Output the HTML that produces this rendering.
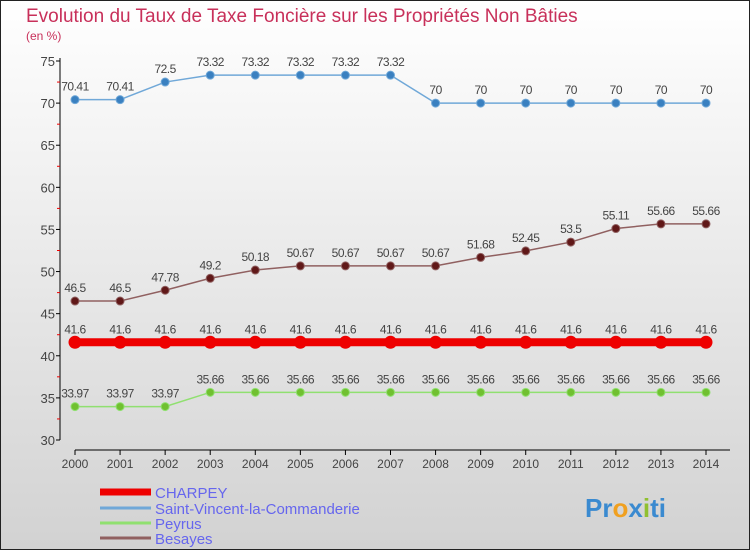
<!DOCTYPE html>
<html><head><meta charset="utf-8"><style>
html,body{margin:0;padding:0}
body{width:750px;height:550px;overflow:hidden;font-family:"Liberation Sans",sans-serif}
</style></head><body>
<svg id="chart" width="750" height="550" xmlns="http://www.w3.org/2000/svg">
<defs><linearGradient id="bg" x1="0" y1="0" x2="0" y2="1"><stop offset="0" stop-color="#ffffff"/><stop offset="1" stop-color="#d2d2d2"/></linearGradient></defs>
<rect x="0.5" y="0.5" width="749" height="549" fill="url(#bg)" stroke="#222"/>
<text x="26" y="22" font-size="19" fill="#c8305a">Evolution du Taux de Taxe Foncière sur les Propriétés Non Bâties</text>
<text x="26" y="40" font-size="12" fill="#c8305a">(en %)</text>
<g id="axes"></g><g id="series"></g>
<g>
<line x1="100" y1="492" x2="151" y2="492" stroke="#ee0000" stroke-width="7"/>
<text x="155" y="498" font-size="15" fill="#6666ee">CHARPEY</text>
<line x1="100" y1="508" x2="151" y2="508" stroke="#70a8d8" stroke-width="3"/>
<text x="155" y="514" font-size="15" fill="#6666ee">Saint-Vincent-la-Commanderie</text>
<line x1="100" y1="523" x2="151" y2="523" stroke="#90e070" stroke-width="3"/>
<text x="155" y="529" font-size="15" fill="#6666ee">Peyrus</text>
<line x1="100" y1="538" x2="151" y2="538" stroke="#906060" stroke-width="3"/>
<text x="155" y="544" font-size="15" fill="#6666ee">Besayes</text>
</g>
<g font-size="26" font-weight="bold">
<text x="585" y="517"><tspan fill="#3a8ad0">Pr</tspan><tspan fill="#f0a020">o</tspan><tspan fill="#3a8ad0">x</tspan><tspan fill="#90c030">i</tspan><tspan fill="#3a8ad0">ti</tspan></text>
</g>
</svg>
<script>
const years=[2000,2001,2002,2003,2004,2005,2006,2007,2008,2009,2010,2011,2012,2013,2014];
const yTicks=[30,35,40,45,50,55,60,65,70,75];
const charpey=[41.6,41.6,41.6,41.6,41.6,41.6,41.6,41.6,41.6,41.6,41.6,41.6,41.6,41.6,41.6];
const saintVincent=[70.41,70.41,72.5,73.32,73.32,73.32,73.32,73.32,70,70,70,70,70,70,70];
const peyrus=[33.97,33.97,33.97,35.66,35.66,35.66,35.66,35.66,35.66,35.66,35.66,35.66,35.66,35.66,35.66];
const besayes=[46.5,46.5,47.78,49.2,50.18,50.67,50.67,50.67,50.67,51.68,52.45,53.5,55.11,55.66,55.66];
const NS="http://www.w3.org/2000/svg";
const x=i=>75+i*(706-75)/(years.length-1);
const y=v=>61+(75-v)*(440-61)/45;
function el(t,a,p){const e=document.createElementNS(NS,t);for(const k in a)e.setAttribute(k,a[k]);p.appendChild(e);return e;}
const ax=document.getElementById('axes');
const yl=el('line',{x1:60,y1:58,x2:60,y2:440,stroke:'#000'},ax);


const xl=el('line',{x1:75,y1:450,x2:730,y2:450,stroke:'#000'},ax);


yTicks.forEach((v,i)=>{
  el('line',{x1:56,y1:y(v),x2:60,y2:y(v),stroke:'#000'},ax);
  if(i<yTicks.length-1) el('line',{x1:57,y1:y(v+2.5),x2:60,y2:y(v+2.5),stroke:'#e00'},ax);
  const t=el('text',{x:55,y:y(v)+5,'font-size':13,fill:'#444','text-anchor':'end'},ax);
  t.textContent=v;
  
  
});
years.forEach((yr,i)=>{
  el('line',{x1:x(i),y1:450,x2:x(i),y2:455,stroke:'#000'},ax);
  const t=el('text',{x:x(i),y:468,'font-size':12,fill:'#444','text-anchor':'middle'},ax);
  t.textContent=yr;
  
  
});
const sg=document.getElementById('series');
function series(data,name,color,dot,lw,r){
  const g=el('g',{},sg);
  
  
  el('polyline',{points:data.map((v,i)=>x(i)+','+y(v)).join(' '),fill:'none',stroke:color,'stroke-width':lw},g);
  data.forEach((v,i)=>{
    const c=el('circle',{cx:x(i),cy:y(v),r:r,fill:dot,stroke:color,'stroke-width':1},g);
    
    
    const t=el('text',{x:x(i),y:y(v)-9,'font-size':12,fill:'#444','text-anchor':'middle','letter-spacing':'-0.5'},g);
    t.textContent=v;
    
    
  });
}
series(saintVincent,'saint-vincent-series','#70a8d8','#3a80c0',1.5,4);
series(besayes,'besayes-series','#906060','#601818',1.5,4);
series(charpey,'charpey-series','#ee0000','#ee0000',8,6);
series(peyrus,'peyrus-series','#90e070','#70c030',1.5,4);
</script>
</body></html>
